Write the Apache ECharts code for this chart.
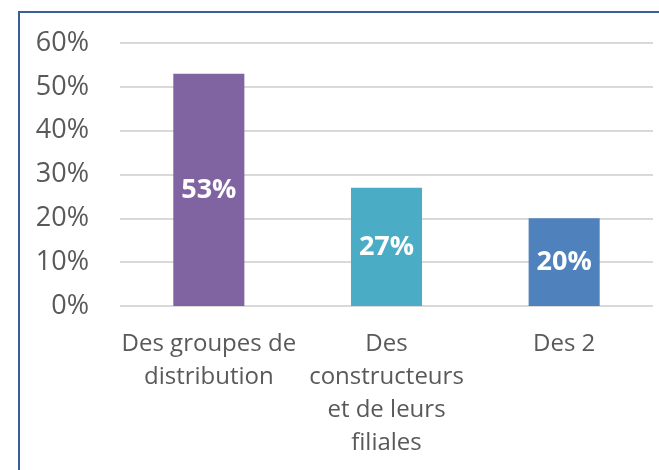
<!DOCTYPE html>
<html>
<head>
<meta charset="utf-8">
<script src="https://cdn.jsdelivr.net/npm/echarts@6/dist/echarts.min.js"></script>
<style>
  html, body { margin: 0; padding: 0; background: #fff; }
  #main { width: 659px; height: 470px; }
</style>
</head>
<body>
<div id="main"></div>
<script>
var categories = ['Des groupes de\ndistribution', 'Des\nconstructeurs\net de leurs\nfiliales', 'Des 2'];
var values = [53, 27, 20];
var barColors = ['#8064A2', '#4BACC6', '#4F81BD'];
var yTicks = [0, 10, 20, 30, 40, 50, 60];

var myChart = echarts.init(document.getElementById('main'));

var option = {
  backgroundColor: '#fff',
  textStyle: { fontFamily: 'Open Sans' },
  graphic: [{
    type: 'rect',
    shape: { x: 19, y: 12, width: 700, height: 500 },
    style: { fill: 'none', stroke: '#3A5F96', lineWidth: 2 },
    silent: true
  }],
  grid: { left: 120, right: 6, top: 43, bottom: 164 },
  xAxis: {
    type: 'category',
    data: categories,
    axisLine: { show: false },
    axisTick: { show: false },
    axisLabel: {
      color: '#595959',
      fontSize: 24,
      lineHeight: 33,
      margin: 22,
      interval: 0
    }
  },
  yAxis: {
    type: 'value',
    min: yTicks[0],
    max: yTicks[yTicks.length - 1],
    interval: 10,
    axisLine: { show: false },
    axisTick: { show: false },
    splitLine: { lineStyle: { color: '#D9D9D9', width: 2 } },
    axisLabel: {
      color: '#595959',
      fontSize: 27,
      margin: 31,
      formatter: function (v) { return v + '%'; }
    }
  },
  series: [{
    type: 'bar',
    barWidth: '40%',
    data: values.map(function (v, i) {
      return { value: v, itemStyle: { color: barColors[i] } };
    }),
    label: {
      show: true,
      position: 'inside',
      color: '#fff',
      fontWeight: 'bold',
      fontSize: 27,
      formatter: function (p) { return p.value + '%'; }
    }
  }]
};

myChart.setOption(option);
</script>
</body>
</html>
